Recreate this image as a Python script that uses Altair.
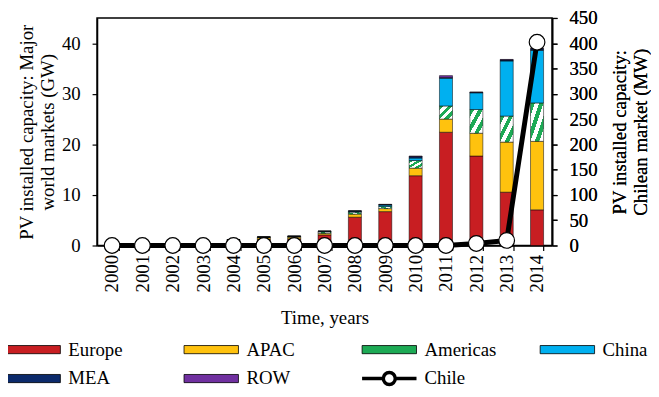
import altair as alt
import pandas as pd

years = [str(y) for y in range(2000, 2015)]
series = ["Europe", "APAC", "Americas", "China", "MEA", "ROW"]
europe   = [0.05, 0.10, 0.15, 0.25, 0.75, 1.20, 1.30, 2.10, 5.60, 6.70, 13.80, 22.40, 17.70, 10.55, 7.05]
apac     = [0.15, 0.15, 0.20, 0.25, 0.30, 0.35, 0.35, 0.30, 0.60, 0.60, 1.50, 2.60, 4.50, 9.90, 13.55]
americas = [0.03, 0.03, 0.05, 0.07, 0.10, 0.12, 0.15, 0.30, 0.40, 0.40, 1.50, 2.60, 4.70, 5.15, 7.60]
china    = [0.00, 0.00, 0.00, 0.01, 0.01, 0.02, 0.03, 0.10, 0.15, 0.30, 0.50, 5.50, 3.30, 10.90, 10.40]
mea      = [0.00, 0.00, 0.00, 0.00, 0.01, 0.01, 0.02, 0.05, 0.10, 0.10, 0.30, 0.10, 0.10, 0.20, 0.30]
row      = [0.00, 0.00, 0.00, 0.00, 0.00, 0.00, 0.01, 0.02, 0.02, 0.05, 0.10, 0.40, 0.05, 0.10, 0.10]
chile    = [0, 0, 0, 0, 0, 0, 0, 0, 0, 0, 0, 0, 4, 10, 402]

colors = ["#C81E22", "#FFC20E", "#1DAA55", "#00B0F0", "#0B2A6B", "#7030A0", "white"]
FONT = "Liberation Serif"

values = [europe, apac, americas, china, mea, row]
records = []
for si, (name, vals) in enumerate(zip(series, values)):
    for y, v in zip(years, vals):
        records.append({"year": y, "series": name, "idx": si, "value": v})
bar_df = pd.DataFrame(records)
chile_df = pd.DataFrame({"year": years, "chile": chile})

# diagonal green/white stripes for Americas
stops = []
n = 3
for i in range(n):
    a = i / n
    b = (i + 0.5) / n
    c = (i + 1) / n
    stops += [
        {"offset": a, "color": "#1DAA55"},
        {"offset": b - 0.001, "color": "#1DAA55"},
        {"offset": b, "color": "white"},
        {"offset": c - 0.001, "color": "white"},
    ]
stripes = {"gradient": "linear", "x1": 0, "y1": 0, "x2": 1, "y2": 1, "stops": stops}

# legend symbol paths (wide rectangle; line with an open circle for Chile)
RECT = "M-0.42,-0.15H1.58V0.15H-0.42Z"
CHILE = ("M-0.42,0H0.36M0.80,0H1.58M0.80,0A0.22,0.22,0,1,1,0.36,0"
         "A0.22,0.22,0,1,1,0.80,0Z")

xenc = alt.X(
    "year:O",
    scale=alt.Scale(paddingInner=0.57, paddingOuter=0.28),
    axis=alt.Axis(
        title="Time, years", labelAngle=270, labelAlign="right", labelBaseline="middle",
        labelPadding=4, tickSize=5, tickBand="extent", titlePadding=17,
    ),
)

bars = alt.Chart(bar_df).mark_bar(stroke="black", strokeWidth=0.5).encode(
    x=xenc,
    y=alt.Y(
        "value:Q", stack="zero",
        scale=alt.Scale(domain=[0, 45], nice=False),
        axis=alt.Axis(values=[0, 10, 20, 30, 40], title=["PV installed capacity: Major", "world markets (GW)"],
                      tickSize=5, labelPadding=12, titlePadding=4),
    ),
    color=alt.condition(
        "datum.series === 'Americas'",
        alt.value(stripes),
        alt.Color(
            "series:N",
            scale=alt.Scale(domain=series + ["Chile"], range=colors),
            legend=alt.Legend(
                orient="none", legendX=-90, legendY=324, columns=4, columnPadding=36,
                rowPadding=4, gridAlign="all", direction="horizontal", title=None,
                labelFont=FONT, labelFontSize=19,
                labelOffset=42, symbolSize=3025,
                symbolType={"expr": f"datum.value === 'Chile' ? '{CHILE}' : '{RECT}'"},
                symbolStrokeColor="black",
                symbolStrokeWidth={"expr": "datum.value === 'Chile' ? 3.5 : 0.8"},
                symbolOpacity=1, labelColor="black",
            ),
        ),
    ),
    order=alt.Order("idx:Q", sort="ascending"),
)

base2 = alt.Chart(chile_df).encode(
    x=alt.X("year:O"),
    y=alt.Y(
        "chile:Q",
        scale=alt.Scale(domain=[0, 450], nice=False),
        axis=alt.Axis(orient="right", values=list(range(0, 451, 50)),
                      title=["PV installed capacity:", "Chilean market (MW)"], titleAngle=270,
                      tickSize=5, labelPadding=12, titlePadding=12),
    ),
)
line = base2.mark_line(color="black", strokeWidth=5)
pts = base2.mark_point(filled=True, fill="white", stroke="black", strokeWidth=1.2, size=250, opacity=1, shape="circle")

chart = alt.layer(bars, line, pts).resolve_scale(y="independent").properties(
    width=460, height=230,
    autosize=alt.AutoSizeParams(type="none"),
    padding={"left": 90, "top": 8, "right": 100, "bottom": 145},
).configure_view(stroke="black", strokeWidth=1.5).configure_axis(
    domainColor="black", domainWidth=1.5, tickColor="black", tickWidth=1.2, grid=False,
    labelFont=FONT, labelFontSize=19, labelColor="black",
    titleFont=FONT, titleFontSize=19, titleFontWeight="normal", titleColor="black", titleLineHeight=21,
)

chart.save("out.html", embed_options={"renderer": "svg", "actions": False})
